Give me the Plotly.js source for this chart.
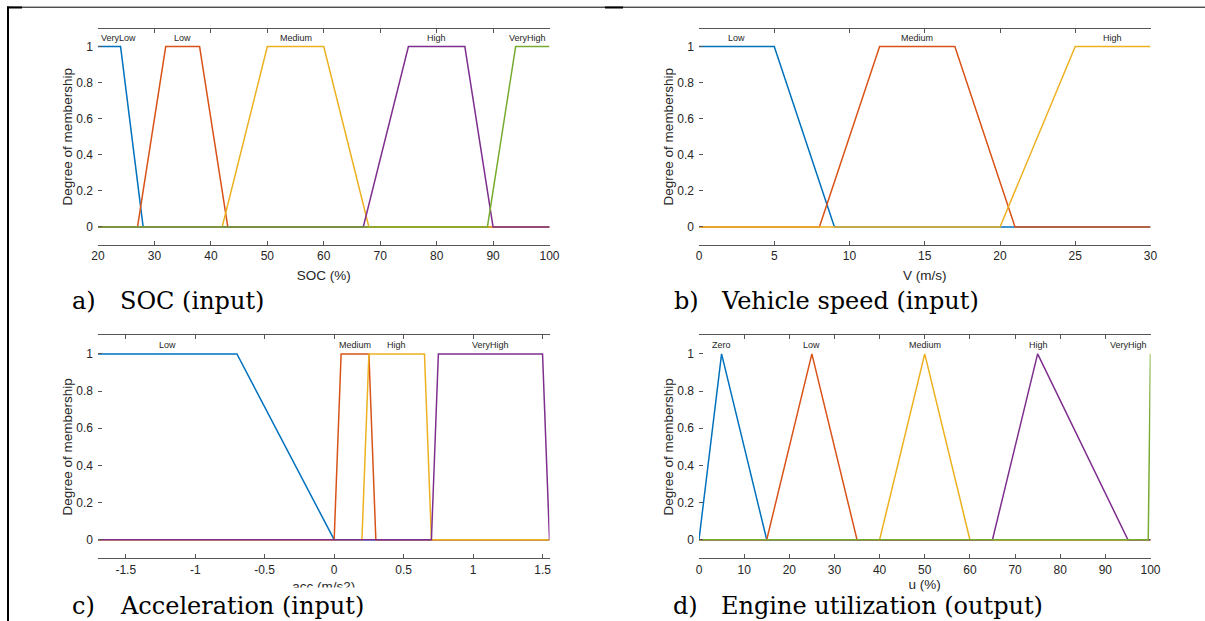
<!DOCTYPE html>
<html>
<head>
<meta charset="utf-8">
<script src="https://cdn.plot.ly/plotly-3.0.1.min.js"></script>
<style>html,body{margin:0;padding:0;background:#fff;}#chart{width:1205px;height:621px;}</style>
</head>
<body>
<div id="chart"></div>
<script>
// ---------- DATA ----------
var mfColors = ['#0072BD', '#D95319', '#EDB120', '#7E2F8E', '#77AC30'];

// a) SOC (input)
var socNames = ['VeryLow', 'Low', 'Medium', 'High', 'VeryHigh'];
var socX = [[20, 24, 28, 100], [20, 27, 32, 38, 43, 100], [20, 42, 50, 60, 68, 100], [20, 67, 75, 85, 90, 100], [20, 89, 94, 100]];
var socY = [[1, 1, 0, 0], [0, 0, 1, 1, 0, 0], [0, 0, 1, 1, 0, 0], [0, 0, 1, 1, 0, 0], [0, 0, 1, 1]];
var socLabelX = [23.7, 34.9, 55, 80, 96.1];
var socRange = [20, 100];
var socTicks = [20, 30, 40, 50, 60, 70, 80, 90, 100];

// b) Vehicle speed (input)
var speedNames = ['Low', 'Medium', 'High'];
var speedX = [[0, 5, 9, 30], [0, 8, 12, 17, 21, 30], [0, 20, 25, 30]];
var speedY = [[1, 1, 0, 0], [0, 0, 1, 1, 0, 0], [0, 0, 1, 1]];
var speedLabelX = [2.5, 14.5, 27.5];
var speedRange = [0, 30];
var speedTicks = [0, 5, 10, 15, 20, 25, 30];

// c) Acceleration (input)
var accNames = ['Low', 'Medium', 'High', 'VeryHigh'];
var accX = [[-1.7, -0.7, 0, 1.55], [-1.7, 0, 0.05, 0.25, 0.3, 1.55], [-1.7, 0.2, 0.25, 0.65, 0.7, 1.55], [-1.7, 0.7, 0.75, 1.5, 1.55]];
var accY = [[1, 1, 0, 0], [0, 0, 1, 1, 0, 0], [0, 0, 1, 1, 0, 0], [0, 0, 1, 1, 0]];
var accLabelX = [-1.2, 0.15, 0.45, 1.125];
var accRange = [-1.7, 1.55];
var accTicks = [-1.5, -1, -0.5, 0, 0.5, 1, 1.5];
var accTickText = ['-1.5', '-1', '-0.5', '0', '0.5', '1', '1.5'];

// d) Engine utilization (output)
var engNames = ['Zero', 'Low', 'Medium', 'High', 'VeryHigh'];
var engX = [[0, 5, 15, 100], [0, 15, 25, 35, 100], [0, 40, 50, 60, 100], [0, 65, 75, 95, 100], [0, 99.5, 100]];
var engY = [[0, 1, 0, 0], [0, 0, 1, 0, 0], [0, 0, 1, 0, 0], [0, 0, 1, 0, 0], [0, 0, 1]];
var engLabelX = [5, 25, 50, 75.2, 95.1];
var engRange = [0, 100];
var engTicks = [0, 10, 20, 30, 40, 50, 60, 70, 80, 90, 100];

var yTicks = [0, 0.2, 0.4, 0.6, 0.8, 1];
var yTickText = ['0', '0.2', '0.4', '0.6', '0.8', '1'];
var yRange = [-0.1, 1.1];
var labelY = 1.047;

var panels = [
  {names: socNames, xs: socX, ys: socY, lx: socLabelX, range: socRange, ticks: socTicks, ticktext: null,
   xtitle: 'SOC (%)', standoff: 8, letter: 'a)', caption: 'SOC (input)'},
  {names: speedNames, xs: speedX, ys: speedY, lx: speedLabelX, range: speedRange, ticks: speedTicks, ticktext: null,
   xtitle: 'V (m/s)', standoff: 8, letter: 'b)', caption: 'Vehicle speed (input)'},
  {names: accNames, xs: accX, ys: accY, lx: accLabelX, range: accRange, ticks: accTicks, ticktext: accTickText,
   xtitle: 'acc (m/s2)', standoff: 5, letter: 'c)', caption: 'Acceleration (input)'},
  {names: engNames, xs: engX, ys: engY, lx: engLabelX, range: engRange, ticks: engTicks, ticktext: null,
   xtitle: 'u (%)', standoff: 0, letter: 'd)', caption: 'Engine utilization (output)'}
];

// ---------- LAYOUT GEOMETRY ----------
var W = 1205, H = 621;
function px(v) { return v / W; }
function py(v) { return 1 - v / H; }
var xDomains = [[px(98), px(549.5)], [px(699), px(1150.5)], [px(98), px(549.5)], [px(699), px(1150.5)]];
var yDomains = [[py(245), py(28.5)], [py(245), py(28.5)], [py(558.3), py(335.3)], [py(558.3), py(335.3)]];
var captionLetterX = [70.7, 672.5, 70.8, 672];
var captionTextX = [118.5, 719.6, 118.6, 720.4];
var captionY = [301, 301, 606, 606];
var captionPad = [0, 0, 4, 0];

var tickFont = {family: 'Liberation Sans, Arial, sans-serif', size: 12, color: '#262626'};
var titleFont = {family: 'Liberation Sans, Arial, sans-serif', size: 13.5, color: '#262626'};
var mfFont = {family: 'Liberation Sans, Arial, sans-serif', size: 9, color: '#262626'};
var capFont = {family: 'DejaVu Serif, serif', size: 24, color: '#000000'};
var axisColor = '#555555';

var data = [];
var layout = {
  width: W, height: H,
  margin: {l: 0, r: 0, t: 0, b: 0},
  paper_bgcolor: '#ffffff', plot_bgcolor: '#ffffff',
  showlegend: false,
  annotations: [],
  shapes: [
    {type: 'line', xref: 'paper', yref: 'paper', x0: px(8), x1: px(8), y0: py(6.5), y1: py(621), line: {color: '#000', width: 2}},
    {type: 'line', xref: 'paper', yref: 'paper', x0: px(7), x1: px(1205), y0: py(7.2), y1: py(7.2), line: {color: '#000', width: 1}},
    {type: 'line', xref: 'paper', yref: 'paper', x0: px(7), x1: px(22), y0: py(7.5), y1: py(7.5), line: {color: '#000', width: 2}},
    {type: 'line', xref: 'paper', yref: 'paper', x0: px(605), x1: px(623), y0: py(7.5), y1: py(7.5), line: {color: '#000', width: 2}}
  ]
};

panels.forEach(function (p, i) {
  var n = i + 1;
  var xa = n === 1 ? 'x' : 'x' + n;
  var ya = n === 1 ? 'y' : 'y' + n;
  p.names.forEach(function (name, k) {
    data.push({
      type: 'scatter', mode: 'lines', name: name,
      x: p.xs[k], y: p.ys[k], xaxis: xa, yaxis: ya,
      line: {color: mfColors[k], width: 1.5},
      hoverinfo: 'x+y+name'
    });
    layout.annotations.push({
      xref: xa, yref: ya, x: p.lx[k], y: labelY, text: name, showarrow: false,
      xanchor: 'center', yanchor: 'middle', font: mfFont
    });
  });
  var xKey = n === 1 ? 'xaxis' : 'xaxis' + n;
  var yKey = n === 1 ? 'yaxis' : 'yaxis' + n;
  layout[xKey] = {
    domain: xDomains[i], anchor: ya, range: p.range, fixedrange: true,
    showline: true, linecolor: axisColor, linewidth: 1, mirror: 'ticks',
    ticks: 'inside', ticklen: 4, tickcolor: axisColor, tickwidth: 1,
    tickvals: p.ticks, ticktext: p.ticktext || p.ticks.map(String),
    tickfont: tickFont, showgrid: false, zeroline: false,
    title: {text: p.xtitle, font: titleFont, standoff: p.standoff}
  };
  layout[yKey] = {
    domain: yDomains[i], anchor: xa, range: yRange, fixedrange: true,
    showline: false, ticks: 'inside', ticklen: 4, tickcolor: axisColor, tickwidth: 1,
    tickvals: yTicks, ticktext: yTickText, tickfont: tickFont, ticklabelstandoff: 4,
    showgrid: false, zeroline: false,
    title: {text: 'Degree of membership', font: titleFont, standoff: 0}
  };
  layout['yaxis' + (n + 4)] = {
    overlaying: ya, anchor: xa, side: 'right', range: yRange, fixedrange: true,
    showline: true, linecolor: axisColor, linewidth: 1,
    ticks: 'inside', ticklen: 4, tickcolor: axisColor, tickwidth: 1,
    tickvals: yTicks, showticklabels: false, showgrid: false, zeroline: false
  };
});

// captions (drawn last so they sit on top)
panels.forEach(function (p, i) {
  layout.annotations.push({
    xref: 'paper', yref: 'paper', x: px(captionLetterX[i] - captionPad[i]), y: py(captionY[i]),
    xanchor: 'left', yanchor: 'middle', text: p.letter, showarrow: false,
    font: capFont, bgcolor: '#ffffff', borderpad: captionPad[i]
  });
  layout.annotations.push({
    xref: 'paper', yref: 'paper', x: px(captionTextX[i] - captionPad[i]), y: py(captionY[i]),
    xanchor: 'left', yanchor: 'middle', text: p.caption, showarrow: false,
    font: capFont, bgcolor: '#ffffff', borderpad: captionPad[i]
  });
});

Plotly.newPlot('chart', data, layout, {displayModeBar: false, staticPlot: true});
</script>
</body>
</html>
